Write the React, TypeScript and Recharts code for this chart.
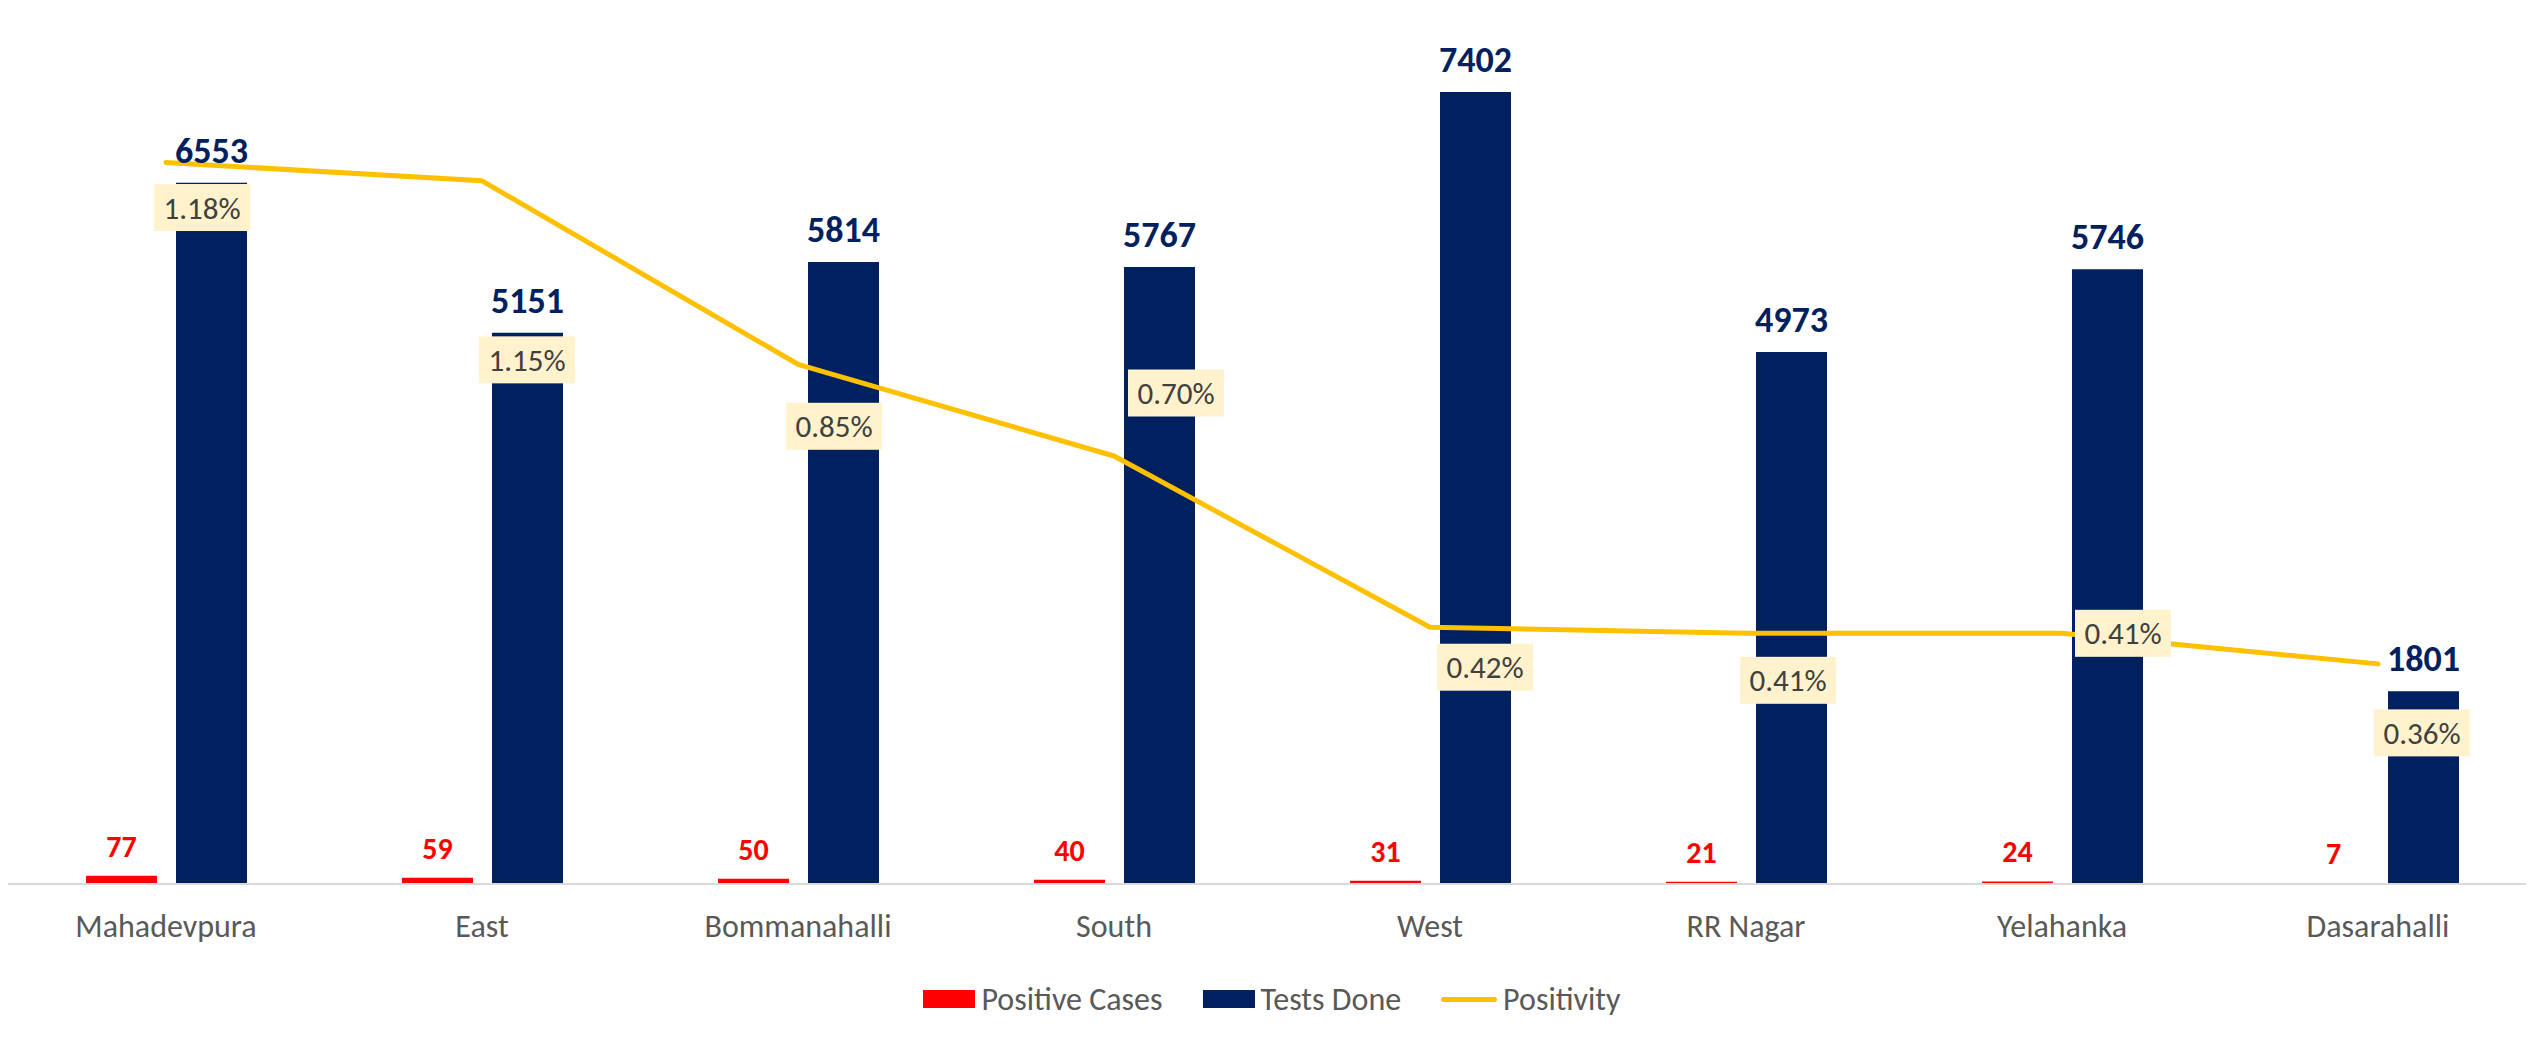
import React from "react";
import {
    ComposedChart,
    Bar,
    Line,
    XAxis,
    YAxis,
    Legend,
    LabelList
} from "recharts";

const zones = ["Mahadevpura", "East", "Bommanahalli", "South", "West", "RR Nagar", "Yelahanka", "Dasarahalli"];
const positiveCases = [77, 59, 50, 40, 31, 21, 24, 7];
const testsDone = [6553, 5151, 5814, 5767, 7402, 4973, 5746, 1801];
const positivity = [1.18, 1.15, 0.85, 0.70, 0.42, 0.41, 0.41, 0.36];
const seriesOrder = ["Positive Cases", "Tests Done", "Positivity"];

// hand-placed positions of the positivity labels (box centre relative to the point)
const labelShift = [
    [36, 45], [45, 179], [36, 62], [62, -63],
    [55, 40], [42, 47], [61, 0], [44, 69]
];

const FONT = "Carlito, Calibri, Lato, sans-serif";
const RED = "#FF0000";
const NAVY = "#002060";
const GOLD = "#FFC000";

const data = zones.map((zone, i) => ({
    zone,
    positive: positiveCases[i],
    tests: testsDone[i],
    positivity: positivity[i]
}));

const CategoryTick = (props: any) => {
    const { x, y, payload } = props;
    return (
        <text x={x} y={y + 45} textAnchor="middle" fill="#595959" fontSize={32} fontFamily={FONT}>
            {payload.value}
        </text>
    );
};

const PositivityLabel = (props: any) => {
    const { x, y, value, index } = props;
    const [dx, dy] = labelShift[index] || [0, 0];
    const cx = x + dx;
    const cy = y + dy;
    return (
        <g>
            <rect x={cx - 48} y={cy - 23.5} width={96} height={47} fill="#FFF2CC" />
            <text x={cx} y={cy + 11} textAnchor="middle" fill="#404040" fontSize={31} fontFamily={FONT}>
                {Number(value).toFixed(2)}%
            </text>
        </g>
    );
};

const LegendContent = (props: any) => {
    const items = [...(props.payload || [])].sort(
        (a: any, b: any) => seriesOrder.indexOf(a.value) - seriesOrder.indexOf(b.value)
    );
    return (
        <div style={{ display: "flex", justifyContent: "center", alignItems: "center", height: 62, gap: 40 }}>
            {items.map((entry: any) => (
                <div key={entry.value} style={{ display: "flex", alignItems: "center", gap: 6 }}>
                    {entry.type === "line" ? (
                        <div style={{ width: 56, height: 5, borderRadius: 3, background: entry.color }} />
                    ) : (
                        <div style={{ width: 52, height: 18, background: entry.color }} />
                    )}
                    <span style={{ fontSize: 32, color: "#595959", fontFamily: FONT }}>{entry.value}</span>
                </div>
            ))}
        </div>
    );
};

export default function App() {
    return (
        <div style={{ position: "relative", width: 2534, height: 1038, margin: -8, overflow: "hidden", background: "#fff", fontFamily: FONT }}>
            <div style={{ position: "absolute", left: 0, top: 5, width: 2534, height: 2, background: "#000" }} />
            <ComposedChart
                width={2540}
                height={1038}
                data={data}
                margin={{ top: 28, right: 4, left: 8, bottom: 0 }}
                barGap={19}
            >
                <XAxis
                    dataKey="zone"
                    tickLine={false}
                    axisLine={{ stroke: "#D9D9D9", strokeWidth: 2 }}
                    tick={<CategoryTick />}
                    height={84}
                    interval={0}
                />
                <YAxis yAxisId="left" domain={[0, 8000]} hide width={0} />
                <YAxis yAxisId="right" orientation="right" domain={[0, 1.4]} hide width={0} />
                <Legend verticalAlign="bottom" height={70} content={<LegendContent />} />
                <Bar yAxisId="left" dataKey="positive" name="Positive Cases" fill={RED} barSize={71} isAnimationActive={false}>
                    <LabelList dataKey="positive" position="top" offset={19} fill={RED} fontSize={30} fontWeight="bold" fontFamily={FONT} />
                </Bar>
                <Bar yAxisId="left" dataKey="tests" name="Tests Done" fill={NAVY} barSize={71} isAnimationActive={false}>
                    <LabelList dataKey="tests" position="top" offset={20} fill={NAVY} fontSize={36} fontWeight="bold" fontFamily={FONT} />
                </Bar>
                <Line
                    yAxisId="right"
                    type="linear"
                    dataKey="positivity"
                    name="Positivity"
                    stroke={GOLD}
                    strokeWidth={5}
                    strokeLinecap="round"
                    strokeLinejoin="round"
                    dot={false}
                    activeDot={false}
                    isAnimationActive={false}
                >
                    <LabelList dataKey="positivity" content={<PositivityLabel />} />
                </Line>
            </ComposedChart>
        </div>
    );
}
